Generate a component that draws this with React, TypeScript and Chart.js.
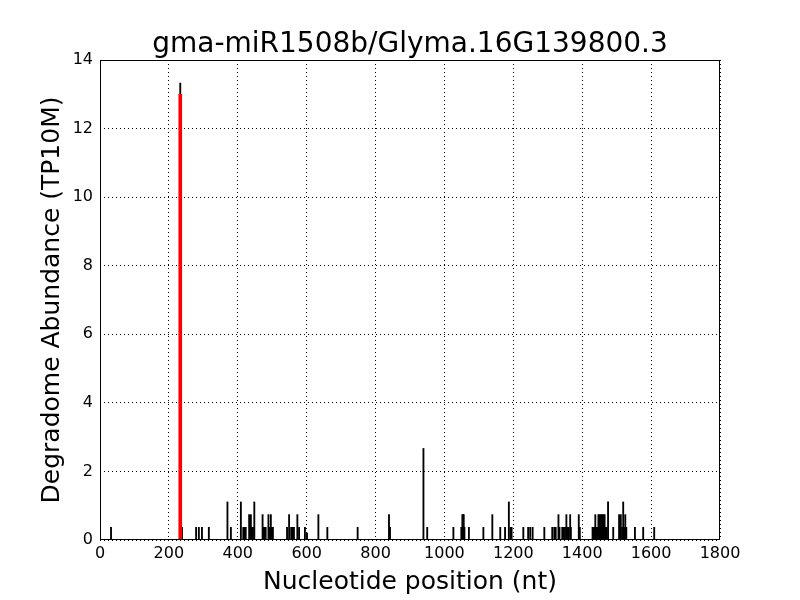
import React, { useEffect, useRef } from 'react';
import { Chart, registerables } from 'chart.js';

Chart.register(...registerables);

const TITLE = 'gma-miR1508b/Glyma.16G139800.3';
const X_LABEL = 'Nucleotide position (nt)';
const Y_LABEL = 'Degradome Abundance (TP10M)';

const xTicks = [0, 200, 400, 600, 800, 1000, 1200, 1400, 1600, 1800];
const yTicks = [0, 2, 4, 6, 8, 10, 12, 14];

// All degradome reads (black)
const positions = [
  32, 233, 238, 279, 287, 296, 316, 370, 380, 409, 416, 419, 423, 433, 438, 441, 444, 448,
  472, 475, 478, 481, 489, 492, 496, 499, 502, 543, 549, 555, 559, 563, 573, 578, 595, 601,
  634, 660, 748, 839, 842, 939, 950, 1026, 1049, 1052, 1054, 1056, 1058, 1071, 1113, 1139,
  1162, 1176, 1187, 1192, 1195, 1229, 1243, 1249, 1256, 1290, 1313, 1319, 1323, 1331, 1334,
  1342, 1346, 1350, 1354, 1358, 1361, 1365, 1367, 1390, 1393, 1430, 1433, 1436, 1438, 1441,
  1444, 1447, 1450, 1453, 1456, 1459, 1462, 1465, 1468, 1471, 1475, 1490, 1507, 1510, 1512,
  1516, 1519, 1522, 1525, 1528, 1553, 1577, 1609,
];
const abundances = [
  0.37, 13.33, 0.37, 0.37, 0.37, 0.37, 0.37, 1.11, 0.37, 1.11, 0.37, 0.37, 0.37, 0.74, 0.74, 0.37, 0.37, 1.11,
  0.74, 0.37, 0.37, 0.37, 0.74, 0.37, 0.74, 0.37, 0.37, 0.37, 0.74, 0.37, 0.37, 0.37, 0.74, 0.37, 0.37, 0.2,
  0.74, 0.37, 0.37, 0.74, 0.37, 2.67, 0.37, 0.37, 0.37, 0.74, 0.74, 0.74, 0.37, 0.37, 0.37, 0.74,
  0.37, 0.37, 1.11, 0.37, 0.37, 0.37, 0.37, 0.37, 0.37, 0.37, 0.37, 0.37, 0.37, 0.74, 0.37,
  0.37, 0.37, 0.37, 0.74, 0.37, 0.37, 0.74, 0.37, 0.74, 0.37, 0.37, 0.37, 0.37, 0.74, 0.37,
  0.37, 0.74, 0.74, 0.74, 0.74, 0.74, 0.74, 0.74, 0.37, 0.37, 1.11, 0.37, 0.74, 0.37, 0.74,
  0.37, 1.11, 0.37, 0.74, 0.37, 0.37, 0.37, 0.37,
];

// Predicted cleavage site (red)
const targetPositions = [233];
const targetAbundances = [13.0];

const FONT = 'DejaVu Sans';

const framePlugin = {
  id: 'frame',
  afterDraw(chart: any) {
    const { ctx, chartArea } = chart;
    const l = Math.round(chartArea.left) + 0.5;
    const t = Math.round(chartArea.top) + 0.5;
    const r = Math.round(chartArea.right) - 0.5;
    const b = Math.round(chartArea.bottom) - 0.5;
    ctx.save();
    ctx.strokeStyle = '#000';
    ctx.lineWidth = 1;
    ctx.strokeRect(l, t, r - l, b - t);
    ctx.restore();
  },
};

export default function App() {
  const canvasRef = useRef<HTMLCanvasElement | null>(null);

  useEffect(() => {
    const canvas = canvasRef.current;
    if (!canvas) return;
    const chart = new Chart(canvas, {
      type: 'bar',
      data: {
        datasets: [
          {
            label: 'target',
            data: targetPositions.map((x, i) => ({ x, y: targetAbundances[i] })),
            backgroundColor: '#ff0000',
            borderWidth: 0,
            barThickness: 3,
            grouped: false,
          } as any,
          {
            label: 'reads',
            data: positions.map((x, i) => ({ x, y: abundances[i] })),
            backgroundColor: '#000000',
            borderWidth: 0,
            barThickness: 1.2,
            grouped: false,
          } as any,
        ],
      },
      options: {
        responsive: false,
        animation: false,
        layout: { padding: { left: 20, right: 0, top: 0, bottom: 0 } },
        plugins: {
          legend: { display: false },
          tooltip: { enabled: false },
          title: {
            display: true,
            text: TITLE,
            color: '#000',
            font: { family: FONT, size: 28, weight: 'normal', lineHeight: 1.2 },
            padding: { top: 28.4, bottom: -2 },
          },
        },
        scales: {
          x: {
            type: 'linear',
            min: 0,
            max: 1800,
            offset: false,
            afterBuildTicks: (scale: any) => {
              scale.ticks = xTicks.map((v) => ({ value: v }));
            },
            afterFit: (scale: any) => {
              scale.height = 60;
            },
            ticks: {
              color: '#000',
              font: { family: FONT, size: 16 },
              padding: 4,
              maxRotation: 0,
              autoSkip: false,
              callback: (v: any) => String(v),
            },
            grid: { color: '#000', lineWidth: 1, drawTicks: false, offset: false },
            border: { display: false, dash: [1, 3] },
            title: {
              display: true,
              text: X_LABEL,
              color: '#000',
              font: { family: FONT, size: 25, lineHeight: 1.2 },
              padding: { top: 0, bottom: 2.5 },
            },
          },
          y: {
            type: 'linear',
            min: 0,
            max: 14,
            afterBuildTicks: (scale: any) => {
              scale.ticks = yTicks.map((v) => ({ value: v }));
            },
            afterFit: (scale: any) => {
              scale.width = 80;
            },
            ticks: {
              color: '#000',
              font: { family: FONT, size: 16 },
              padding: 7,
              autoSkip: false,
              callback: (v: any) => String(v),
            },
            grid: { color: '#000', lineWidth: 1, drawTicks: false },
            border: { display: false, dash: [1, 3] },
            title: {
              display: true,
              text: Y_LABEL,
              color: '#000',
              font: { family: FONT, size: 25, lineHeight: 1.2 },
              padding: { top: 17.5, bottom: 0 },
            },
          },
          yRight: {
            type: 'linear',
            position: 'right',
            min: 0,
            max: 14,
            afterFit: (scale: any) => {
              scale.width = 80;
            },
            ticks: { display: false },
            grid: { display: false, drawTicks: false },
            border: { display: false },
            title: { display: false },
          },
        },
      },
      plugins: [framePlugin],
    } as any);
    return () => chart.destroy();
  }, []);

  return (
    <div style={{ position: 'fixed', left: 0, top: 0, width: 800, height: 600, background: '#fff' }}>
      <canvas ref={canvasRef} width={800} height={600} />
    </div>
  );
}
